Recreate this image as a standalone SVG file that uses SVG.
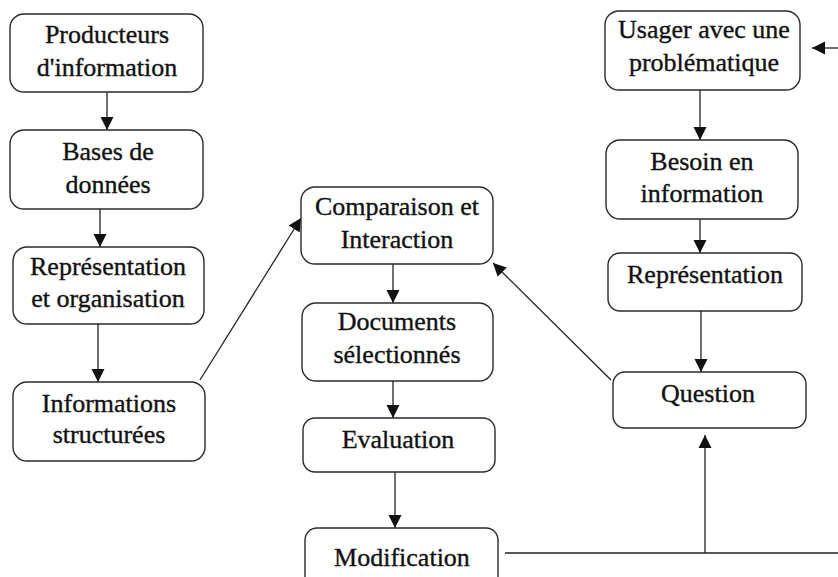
<svg xmlns="http://www.w3.org/2000/svg" width="838" height="577" viewBox="0 0 838 577">
<style>
.box{fill:#fff;stroke:#2a2a2a;stroke-width:1.4}
.t{font-family:"Liberation Serif","Times New Roman",serif;font-size:26px;fill:#111;stroke:#111;stroke-width:0.35;text-anchor:middle}
.c{fill:none;stroke:#222;stroke-width:1.3}
</style>
<defs>
<marker id="ah" markerUnits="userSpaceOnUse" markerWidth="14" markerHeight="14" refX="13" refY="7" orient="auto">
<path d="M0,0.5 L13,7 L0,13.5 z" fill="#111"/>
</marker>
</defs>
<rect width="838" height="577" fill="#fff"/>
<g id="connectors">
<line class="c" x1="107" y1="92" x2="107" y2="130" marker-end="url(#ah)"/>
<line class="c" x1="100" y1="209" x2="100" y2="247" marker-end="url(#ah)"/>
<line class="c" x1="98" y1="324" x2="98" y2="382" marker-end="url(#ah)"/>
<line class="c" x1="200" y1="380" x2="301" y2="218" marker-end="url(#ah)"/>
<line class="c" x1="393" y1="264" x2="393" y2="303" marker-end="url(#ah)"/>
<line class="c" x1="393" y1="381" x2="393" y2="418" marker-end="url(#ah)"/>
<line class="c" x1="395" y1="472" x2="395" y2="528" marker-end="url(#ah)"/>
<line class="c" x1="505" y1="553" x2="838" y2="553"/>
<line class="c" x1="705" y1="553" x2="705" y2="435" marker-end="url(#ah)"/>
<line class="c" x1="611" y1="380" x2="493" y2="263" marker-end="url(#ah)"/>
<line class="c" x1="700" y1="90" x2="700" y2="140" marker-end="url(#ah)"/>
<line class="c" x1="700" y1="219" x2="700" y2="253" marker-end="url(#ah)"/>
<line class="c" x1="701" y1="311" x2="701" y2="372" marker-end="url(#ah)"/>
<line class="c" x1="838" y1="48" x2="812" y2="48" marker-end="url(#ah)"/>
</g>
<g id="producteurs">
<rect class="box" x="10" y="14" width="193" height="78" rx="14"/>
<text class="t" x="107" y="43">Producteurs</text>
<text class="t" x="107" y="76">d'information</text>
</g>
<g id="bases">
<rect class="box" x="10" y="130" width="193" height="79" rx="14"/>
<text class="t" x="108" y="160">Bases de</text>
<text class="t" x="108" y="193">données</text>
</g>
<g id="representation-org">
<rect class="box" x="13" y="247" width="191" height="77" rx="14"/>
<text class="t" x="108" y="275">Représentation</text>
<text class="t" x="108" y="307">et organisation</text>
</g>
<g id="informations">
<rect class="box" x="13" y="382" width="192" height="79" rx="14"/>
<text class="t" x="109" y="412">Informations</text>
<text class="t" x="109" y="443">structurées</text>
</g>
<g id="comparaison">
<rect class="box" x="301" y="187" width="192" height="77" rx="14"/>
<text class="t" x="397" y="215">Comparaison et</text>
<text class="t" x="397" y="248">Interaction</text>
</g>
<g id="documents">
<rect class="box" x="302" y="303" width="191" height="78" rx="14"/>
<text class="t" x="397" y="330">Documents</text>
<text class="t" x="397" y="363">sélectionnés</text>
</g>
<g id="evaluation">
<rect class="box" x="303" y="418" width="192" height="54" rx="12"/>
<text class="t" x="398" y="448">Evaluation</text>
</g>
<g id="modification">
<rect class="box" x="305" y="528" width="193" height="70" rx="12"/>
<text class="t" x="402" y="566">Modification</text>
</g>
<g id="usager">
<rect class="box" x="605" y="11" width="195" height="79" rx="14"/>
<text class="t" x="704" y="38">Usager avec une</text>
<text class="t" x="704" y="71">problématique</text>
</g>
<g id="besoin">
<rect class="box" x="606" y="140" width="192" height="79" rx="14"/>
<text class="t" x="702" y="170">Besoin en</text>
<text class="t" x="702" y="202">information</text>
</g>
<g id="representation">
<rect class="box" x="608" y="253" width="194" height="58" rx="12"/>
<text class="t" x="705" y="283">Représentation</text>
</g>
<g id="question">
<rect class="box" x="613" y="372" width="193" height="56" rx="12"/>
<text class="t" x="708" y="402">Question</text>
</g>
</svg>
